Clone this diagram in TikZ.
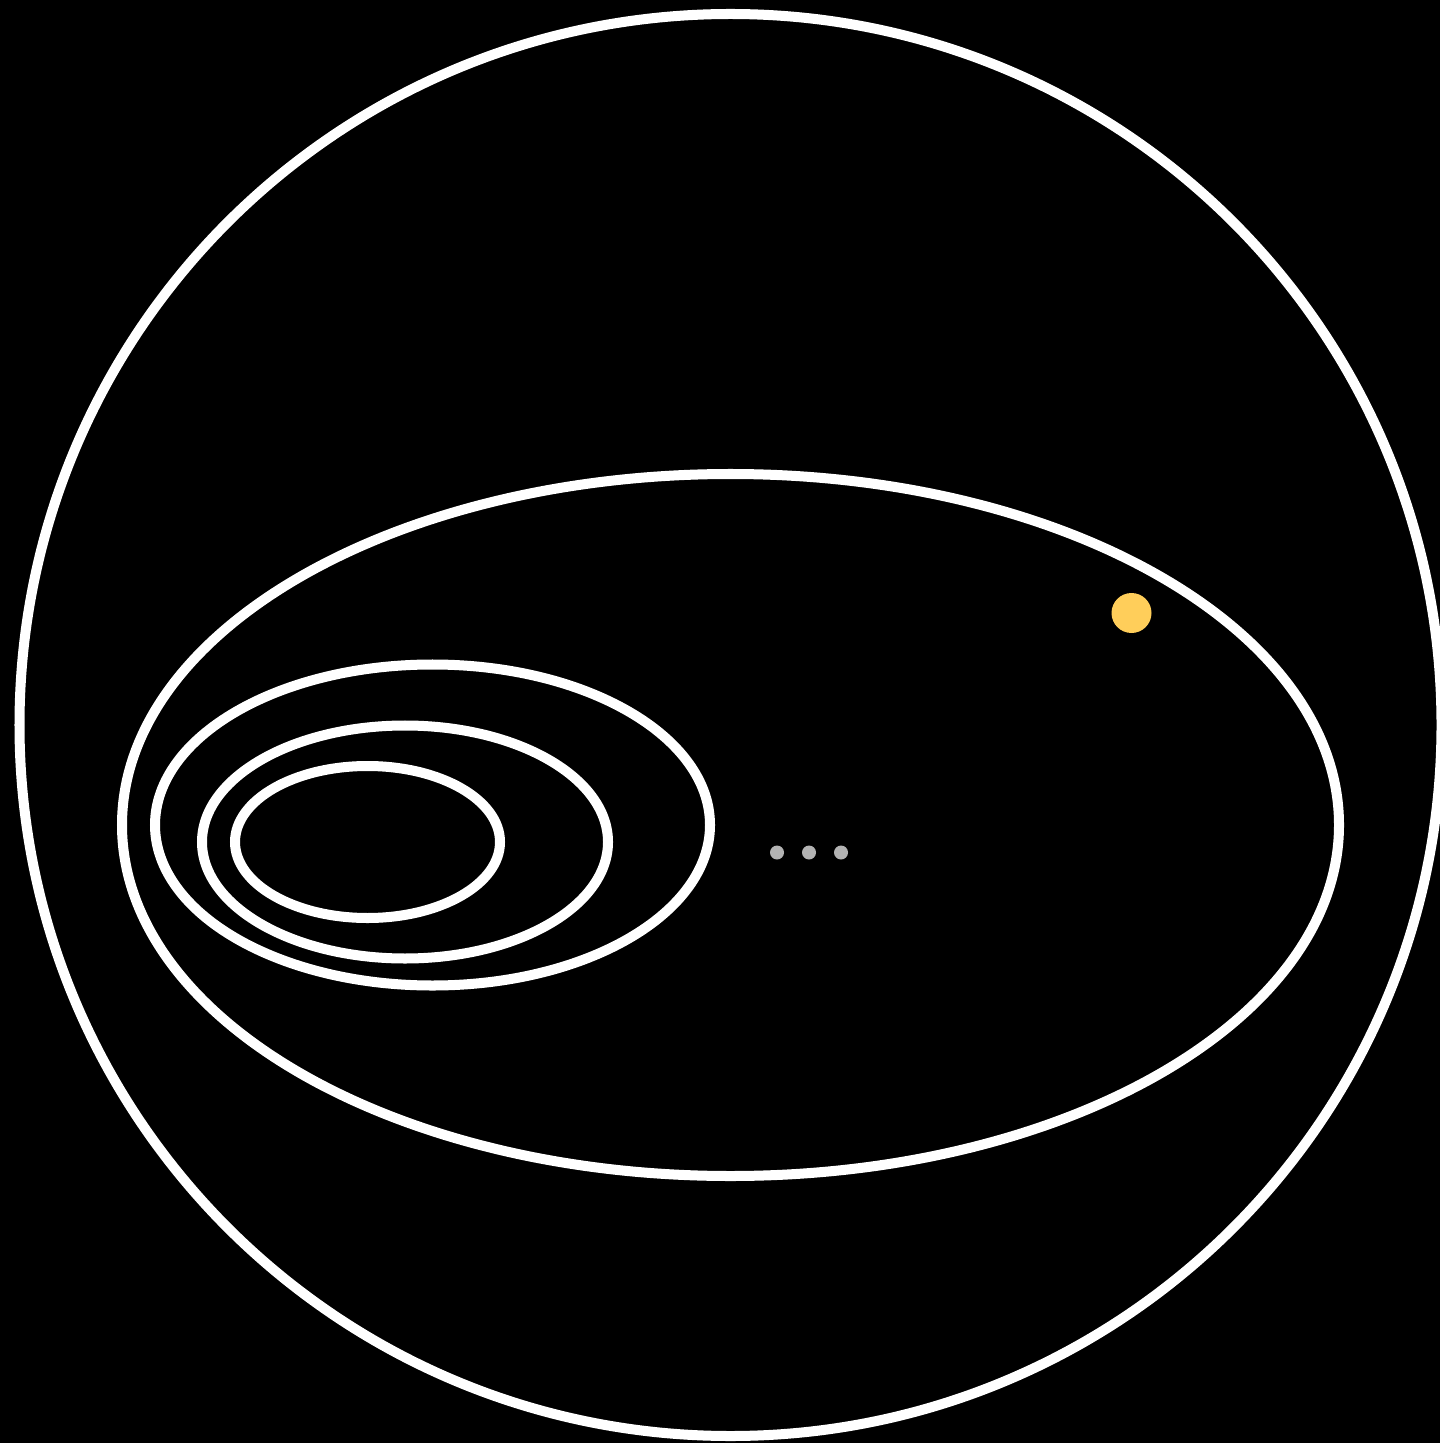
\documentclass[tikz,border=0pt]{standalone}
\usepackage{xcolor}
\definecolor{Sun}{RGB}{255, 206, 90}
\definecolor{Dot}{RGB}{179, 179, 179}

\begin{document}
\begin{tikzpicture}[
    x=0.01cm, y=-0.01cm,
    ring/.style={draw=white, line width=0.1cm},
    sundot/.style={fill=Sun},
    greydot/.style={fill=Dot},
]

%% background
\fill[black] (0, 0) rectangle (1440, 1443);
\useasboundingbox (0, 0) rectangle (1440, 1443);

%% outer circle
\begin{scope}
    \clip (0, 0) rectangle (1440, 1443);
    \draw[ring] (730.5, 725) circle [radius=711];
\end{scope}

%% big ellipse
\draw[ring] (730.5, 825) ellipse [x radius=608.5, y radius=351];

%% nested ellipses
\draw[ring] (432.5, 825) ellipse [x radius=277.5, y radius=160.5];
\draw[ring] (405, 842) ellipse [x radius=203, y radius=116.5];
\draw[ring] (367.5, 842) ellipse [x radius=132.5, y radius=76];

%% yellow point
\fill[sundot] (1131.5, 613) circle [radius=20];

%% dots
\foreach \dx in {777, 809, 841}
    \fill[greydot] (\dx, 852.5) circle [radius=7];

\end{tikzpicture}
\end{document}
